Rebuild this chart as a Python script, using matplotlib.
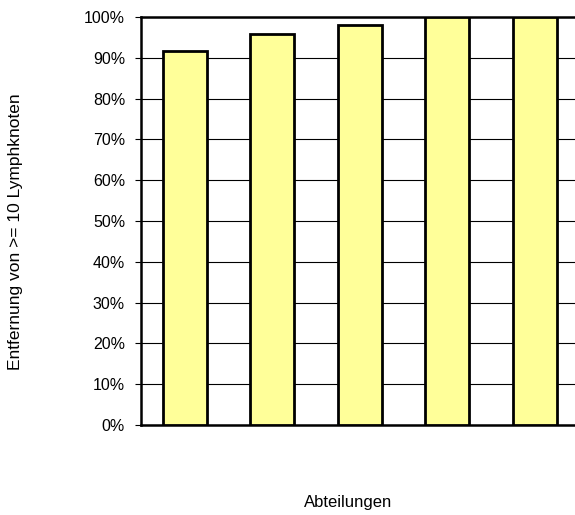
import matplotlib.pyplot as plt
import numpy as np

plt.rcParams["font.family"] = ["Liberation Sans", "DejaVu Sans"]

# share of patients with >= 10 lymph nodes removed, per department
abteilungen = ["A", "B", "C", "D", "E"]
anteil = [91.7, 95.8, 98.0, 100.0, 100.0]
yticks = list(range(0, 101, 10))

W, H = 575, 515
fig = plt.figure(figsize=(W / 100, H / 100), dpi=100)

# plot area runs past the right edge of the canvas
left, right, top, bottom = 141, 578.5, 17, 425
ax = fig.add_axes([left / W, 1 - bottom / H, (right - left) / W, (bottom - top) / H])

x = np.arange(len(abteilungen))
ax.bar(x, anteil, width=0.5, color="#ffff99", edgecolor="black", linewidth=2, zorder=3)

ax.set_xlim(-0.5, len(abteilungen) - 0.5)
ax.set_ylim(0, 100)
ax.set_yticks(yticks)
ax.set_yticklabels([f"{v}%" for v in yticks], fontsize=11.5)
ax.set_xticks([])
ax.yaxis.grid(True, color="black", linewidth=0.8, zorder=0)
ax.tick_params(axis="y", length=4.5, width=0.8, pad=7)

for s in ["left", "top", "bottom"]:
    ax.spines[s].set_linewidth(1.8)
ax.spines["right"].set_visible(False)

fig.text(16 / W, 1 - 232 / H, "Entfernung von >= 10 Lymphknoten",
         rotation=90, ha="center", va="center", fontsize=12.5)
fig.text(348 / W, 1 - 502 / H, "Abteilungen", ha="center", va="center", fontsize=12)

fig.savefig("out.png", dpi=100)
